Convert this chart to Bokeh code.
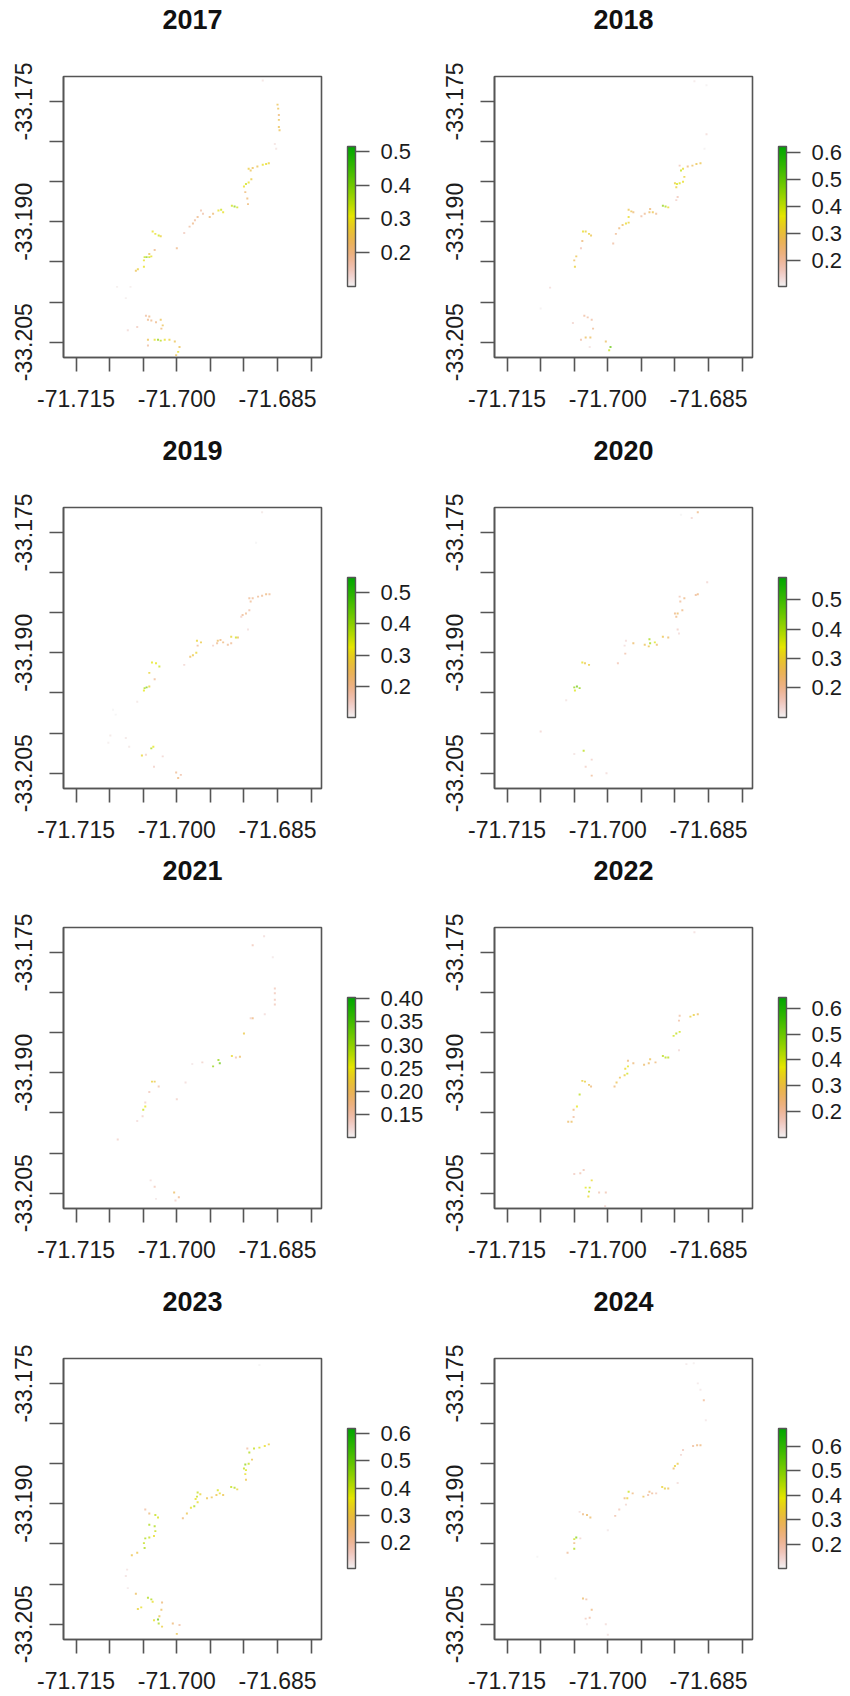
import colorsys
from bokeh.embed import file_html
from bokeh.layouts import column, row
from bokeh.models import ColorBar, ColumnDataSource, FixedTicker, LinearColorMapper, NumeralTickFormatter, Range1d, Title
from bokeh.plotting import figure
from bokeh.resources import INLINE
from bokeh.transform import transform

YEARS = [2017, 2018, 2019, 2020, 2021, 2022, 2023, 2024]
LON_TICKS = [-71.715, -71.710, -71.705, -71.700, -71.695, -71.690, -71.685, -71.680]
LAT_TICKS = [-33.175, -33.180, -33.185, -33.190, -33.195, -33.200, -33.205]
LON_LABELS = {-71.715: "-71.715", -71.700: "-71.700", -71.685: "-71.685"}
LAT_LABELS = {-33.175: "-33.175", -33.190: "-33.190", -33.205: "-33.205"}
BAR_LOW = [0.1007, 0.105, 0.103, 0.099, 0.100, 0.098, 0.103, 0.100]
BAR_HIGH = [0.514, 0.622, 0.5475, 0.576, 0.403, 0.643, 0.620, 0.672]
BAR_TICKS = [
    [0.2, 0.3, 0.4, 0.5],
    [0.2, 0.3, 0.4, 0.5, 0.6],
    [0.2, 0.3, 0.4, 0.5],
    [0.2, 0.3, 0.4, 0.5],
    [0.15, 0.20, 0.25, 0.30, 0.35, 0.40],
    [0.2, 0.3, 0.4, 0.5, 0.6],
    [0.2, 0.3, 0.4, 0.5, 0.6],
    [0.2, 0.3, 0.4, 0.5, 0.6],
]
BAR_FORMAT = ["0.0", "0.0", "0.0", "0.0", "0.00", "0.0", "0.0", "0.0"]

P_2017 = [
    (-71.6850,-33.1754,.25),(-71.6849,-33.1759,.25),(-71.6848,-33.1767,.22),(-71.6848,-33.1773,.25),(-71.6848,-33.1782,.25),(-71.6847,-33.1786,.25),
    (-71.6854,-33.1803,.12),(-71.6852,-33.1809,.12),(-71.6872,-33.1724,.12),(-71.6893,-33.1834,.27),(-71.6890,-33.1836,.25),(-71.6887,-33.1833,.25),
    (-71.6880,-33.1831,.25),(-71.6872,-33.1829,.30),(-71.6867,-33.1828,.30),(-71.6863,-33.1827,.28),(-71.6900,-33.1856,.30),(-71.6897,-33.1853,.33),
    (-71.6893,-33.1851,.30),(-71.6889,-33.1847,.27),(-71.6898,-33.1863,.22),(-71.6895,-33.1871,.22),(-71.6894,-33.1878,.22),(-71.6918,-33.1880,.33),
    (-71.6914,-33.1881,.38),(-71.6910,-33.1882,.33),(-71.6934,-33.1885,.33),(-71.6938,-33.1886,.30),(-71.6931,-33.1888,.30),(-71.6951,-33.1894,.22),
    (-71.6946,-33.1890,.22),(-71.6964,-33.1886,.17),(-71.6961,-33.1890,.17),(-71.6969,-33.1894,.20),(-71.6973,-33.1898,.18),(-71.6976,-33.1902,.20),
    (-71.6981,-33.1906,.18),(-71.6989,-33.1914,.15),(-71.7000,-33.1933,.20),(-71.7036,-33.1912,.30),(-71.7032,-33.1915,.30),(-71.7027,-33.1917,.33),
    (-71.7024,-33.1918,.28),(-71.7033,-33.1935,.20),(-71.7041,-33.1940,.25),(-71.7048,-33.1944,.33),(-71.7045,-33.1944,.38),(-71.7041,-33.1944,.33),
    (-71.7049,-33.1948,.30),(-71.7038,-33.1943,.30),(-71.7049,-33.1956,.30),(-71.7058,-33.1959,.28),(-71.7061,-33.1961,.25),(-71.7089,-33.1981,.11),
    (-71.7076,-33.1995,.11),(-71.7069,-33.1981,.11),(-71.7046,-33.2017,.18),(-71.7041,-33.2018,.20),(-71.7043,-33.2022,.20),(-71.7038,-33.2023,.20),
    (-71.7031,-33.2025,.20),(-71.7024,-33.2022,.25),(-71.7021,-33.2029,.25),(-71.7023,-33.2033,.22),(-71.7059,-33.2031,.15),(-71.7073,-33.2035,.13),
    (-71.7043,-33.2047,.25),(-71.7033,-33.2047,.30),(-71.7028,-33.2047,.38),(-71.7024,-33.2048,.35),(-71.7018,-33.2047,.30),(-71.7011,-33.2047,.28),
    (-71.7003,-33.2049,.25),(-71.6996,-33.2056,.25),(-71.6998,-33.2062,.30),(-71.7001,-33.2066,.25),(-71.7043,-33.2054,.18),
]
P_2018 = [
    (-71.6871,-33.1725,.12),(-71.6853,-33.1730,.11),(-71.6853,-33.1791,.14),(-71.6856,-33.1809,.11),(-71.6862,-33.1827,.30),(-71.6868,-33.1828,.30),
    (-71.6874,-33.1830,.28),(-71.6881,-33.1831,.25),(-71.6893,-33.1830,.18),(-71.6891,-33.1836,.40),(-71.6888,-33.1834,.35),(-71.6886,-33.1844,.33),
    (-71.6888,-33.1850,.35),(-71.6893,-33.1852,.38),(-71.6897,-33.1853,.38),(-71.6900,-33.1852,.33),(-71.6898,-33.1857,.33),(-71.6896,-33.1869,.18),
    (-71.6898,-33.1873,.16),(-71.6918,-33.1880,.45),(-71.6914,-33.1881,.42),(-71.6910,-33.1882,.35),(-71.6937,-33.1884,.25),(-71.6933,-33.1888,.30),
    (-71.6938,-33.1888,.27),(-71.6928,-33.1890,.22),(-71.6945,-33.1890,.22),(-71.6950,-33.1893,.20),(-71.6969,-33.1885,.30),(-71.6965,-33.1887,.30),
    (-71.6962,-33.1888,.25),(-71.6969,-33.1894,.35),(-71.6973,-33.1902,.35),(-71.6969,-33.1901,.33),(-71.6978,-33.1904,.28),(-71.6983,-33.1908,.25),
    (-71.6988,-33.1915,.22),(-71.6992,-33.1927,.20),(-71.7037,-33.1912,.35),(-71.7033,-33.1912,.33),(-71.7028,-33.1915,.33),(-71.7025,-33.1917,.30),
    (-71.7038,-33.1924,.25),(-71.7040,-33.1933,.18),(-71.7047,-33.1943,.30),(-71.7050,-33.1948,.28),(-71.7049,-33.1956,.33),(-71.7086,-33.1982,.14),
    (-71.7100,-33.2008,.11),(-71.7035,-33.2017,.20),(-71.7030,-33.2019,.20),(-71.7024,-33.2022,.20),(-71.7052,-33.2026,.15),(-71.7022,-33.2033,.22),
    (-71.7033,-33.2044,.28),(-71.7026,-33.2044,.28),(-71.7040,-33.2047,.20),(-71.7003,-33.2049,.28),(-71.6996,-33.2056,.50),(-71.6998,-33.2060,.40),
    (-71.7027,-33.2056,.13),
]
P_2019 = [
    (-71.6873,-33.1725,.12),(-71.6882,-33.1763,.10),(-71.6862,-33.1827,.20),(-71.6867,-33.1827,.22),(-71.6873,-33.1829,.20),(-71.6879,-33.1830,.20),
    (-71.6887,-33.1832,.20),(-71.6892,-33.1832,.20),(-71.6890,-33.1836,.20),(-71.6892,-33.1847,.18),(-71.6897,-33.1851,.20),(-71.6902,-33.1853,.20),
    (-71.6904,-33.1855,.15),(-71.6894,-33.1871,.13),(-71.6919,-33.1880,.30),(-71.6912,-33.1881,.35),(-71.6909,-33.1881,.25),(-71.6919,-33.1888,.20),
    (-71.6924,-33.1890,.20),(-71.6939,-33.1885,.25),(-71.6935,-33.1884,.22),(-71.6931,-33.1887,.22),(-71.6940,-33.1888,.20),(-71.6970,-33.1885,.30),
    (-71.6964,-33.1887,.28),(-71.6969,-33.1891,.20),(-71.6946,-33.1891,.15),(-71.6971,-33.1900,.30),(-71.6976,-33.1903,.28),(-71.6980,-33.1905,.25),
    (-71.6989,-33.1915,.14),(-71.7037,-33.1912,.33),(-71.7031,-33.1913,.33),(-71.7026,-33.1917,.35),(-71.7041,-33.1925,.30),(-71.7033,-33.1933,.20),
    (-71.7045,-33.1943,.42),(-71.7048,-33.1944,.38),(-71.7041,-33.1942,.30),(-71.7049,-33.1947,.33),(-71.7059,-33.1961,.12),(-71.7095,-33.1971,.10),
    (-71.7091,-33.1977,.10),(-71.7099,-33.2003,.12),(-71.7102,-33.2012,.11),(-71.7076,-33.2006,.12),(-71.7071,-33.2017,.12),(-71.7038,-33.2019,.38),
    (-71.7035,-33.2017,.33),(-71.7052,-33.2028,.30),(-71.7046,-33.2027,.15),(-71.7021,-33.2029,.14),(-71.7034,-33.2042,.15),(-71.7001,-33.2049,.20),
    (-71.6994,-33.2052,.18),(-71.6998,-33.2056,.22),
]
P_2020 = [
    (-71.6866,-33.1725,.22),(-71.6875,-33.1732,.14),(-71.6891,-33.1728,.10),(-71.6852,-33.1812,.14),(-71.6866,-33.1827,.22),(-71.6869,-33.1828,.20),
    (-71.6893,-33.1830,.17),(-71.6886,-33.1832,.22),(-71.6892,-33.1836,.20),(-71.6889,-33.1847,.22),(-71.6896,-33.1851,.25),(-71.6900,-33.1851,.22),
    (-71.6898,-33.1855,.22),(-71.6896,-33.1871,.15),(-71.6894,-33.1876,.13),(-71.6918,-33.1880,.28),(-71.6910,-33.1881,.25),(-71.6938,-33.1883,.40),
    (-71.6937,-33.1888,.40),(-71.6939,-33.1892,.28),(-71.6930,-33.1887,.35),(-71.6927,-33.1890,.25),(-71.6945,-33.1890,.27),(-71.6962,-33.1888,.25),
    (-71.6973,-33.1885,.13),(-71.6975,-33.1891,.13),(-71.6974,-33.1901,.18),(-71.6985,-33.1913,.17),(-71.7038,-33.1912,.33),(-71.7034,-33.1913,.28),
    (-71.7028,-33.1915,.30),(-71.7050,-33.1943,.42),(-71.7046,-33.1942,.45),(-71.7042,-33.1944,.42),(-71.7049,-33.1947,.35),(-71.7062,-33.1959,.12),
    (-71.7100,-33.1998,.14),(-71.7050,-33.2026,.12),(-71.7036,-33.2022,.38),(-71.7024,-33.2033,.15),(-71.7033,-33.2042,.15),(-71.7024,-33.2053,.20),
    (-71.7002,-33.2050,.13),
]
P_2021 = [
    (-71.6870,-33.1730,.12),(-71.6887,-33.1741,.14),(-71.6857,-33.1756,.11),(-71.6854,-33.1795,.14),(-71.6854,-33.1801,.14),(-71.6854,-33.1809,.14),
    (-71.6854,-33.1815,.14),(-71.6869,-33.1827,.12),(-71.6887,-33.1832,.18),(-71.6890,-33.1832,.13),(-71.6900,-33.1851,.22),(-71.6918,-33.1879,.24),
    (-71.6906,-33.1880,.20),(-71.6912,-33.1881,.15),(-71.6938,-33.1884,.30),(-71.6936,-33.1888,.33),(-71.6946,-33.1892,.30),(-71.6962,-33.1887,.13),
    (-71.6977,-33.1889,.11),(-71.6987,-33.1912,.12),(-71.7000,-33.1933,.13),(-71.7037,-33.1911,.23),(-71.7033,-33.1911,.22),(-71.7027,-33.1917,.15),
    (-71.7041,-33.1924,.14),(-71.7047,-33.1937,.13),(-71.7047,-33.1942,.25),(-71.7050,-33.1946,.27),(-71.7051,-33.1954,.13),(-71.7059,-33.1960,.12),
    (-71.7088,-33.1983,.13),(-71.7039,-33.2034,.12),(-71.7033,-33.2042,.14),(-71.7004,-33.2049,.20),(-71.6997,-33.2055,.17),(-71.7002,-33.2059,.13),
    (-71.7031,-33.2057,.11),
]
P_2022 = [
    (-71.6871,-33.1725,.13),(-71.6866,-33.1827,.28),(-71.6872,-33.1828,.33),(-71.6877,-33.1830,.33),(-71.6893,-33.1829,.20),(-71.6894,-33.1835,.20),
    (-71.6893,-33.1849,.40),(-71.6898,-33.1851,.42),(-71.6902,-33.1854,.40),(-71.6894,-33.1872,.14),(-71.6918,-33.1879,.42),(-71.6914,-33.1881,.42),
    (-71.6910,-33.1881,.42),(-71.6937,-33.1883,.30),(-71.6939,-33.1888,.27),(-71.6929,-33.1887,.25),(-71.6946,-33.1890,.27),(-71.6970,-33.1885,.25),
    (-71.6962,-33.1888,.25),(-71.6970,-33.1892,.38),(-71.6974,-33.1895,.35),(-71.6971,-33.1901,.40),(-71.6975,-33.1903,.33),(-71.6982,-33.1906,.30),
    (-71.6987,-33.1912,.30),(-71.6990,-33.1917,.25),(-71.7038,-33.1910,.33),(-71.7034,-33.1911,.33),(-71.7028,-33.1915,.30),(-71.7025,-33.1917,.25),
    (-71.7042,-33.1927,.42),(-71.7046,-33.1942,.37),(-71.7051,-33.1946,.25),(-71.7051,-33.1955,.20),(-71.7054,-33.1961,.28),(-71.7059,-33.1961,.27),
    (-71.7036,-33.2021,.18),(-71.7041,-33.2025,.18),(-71.7050,-33.2026,.16),(-71.7024,-33.2034,.35),(-71.7033,-33.2043,.38),(-71.7027,-33.2043,.40),
    (-71.7028,-33.2048,.42),(-71.7029,-33.2054,.35),(-71.7013,-33.2049,.18),(-71.7003,-33.2049,.18),(-71.7004,-33.2066,.15),
]
P_2023 = [
    (-71.6877,-33.1727,.10),(-71.6863,-33.1826,.32),(-71.6869,-33.1828,.35),(-71.6877,-33.1830,.38),(-71.6885,-33.1831,.40),(-71.6892,-33.1836,.42),
    (-71.6895,-33.1831,.20),(-71.6888,-33.1845,.30),(-71.6893,-33.1850,.40),(-71.6898,-33.1851,.45),(-71.6900,-33.1856,.40),(-71.6897,-33.1858,.38),
    (-71.6898,-33.1863,.35),(-71.6897,-33.1870,.30),(-71.6919,-33.1879,.40),(-71.6914,-33.1880,.42),(-71.6910,-33.1882,.33),(-71.6939,-33.1883,.38),
    (-71.6936,-33.1887,.35),(-71.6931,-33.1889,.30),(-71.6941,-33.1889,.30),(-71.6948,-33.1892,.30),(-71.6955,-33.1893,.30),(-71.6969,-33.1886,.40),
    (-71.6965,-33.1888,.33),(-71.6970,-33.1891,.40),(-71.6972,-33.1894,.35),(-71.6969,-33.1898,.35),(-71.6974,-33.1903,.42),(-71.6979,-33.1905,.35),
    (-71.6985,-33.1912,.30),(-71.6991,-33.1918,.25),(-71.7047,-33.1907,.20),(-71.7041,-33.1912,.25),(-71.7032,-33.1914,.40),(-71.7028,-33.1917,.38),
    (-71.7041,-33.1926,.42),(-71.7033,-33.1928,.42),(-71.7032,-33.1934,.40),(-71.7034,-33.1940,.35),(-71.7041,-33.1942,.40),(-71.7047,-33.1943,.42),
    (-71.7049,-33.1949,.40),(-71.7048,-33.1955,.42),(-71.7059,-33.1961,.30),(-71.7067,-33.1964,.30),(-71.7074,-33.1982,.13),(-71.7076,-33.1990,.13),
    (-71.7073,-33.2005,.12),(-71.7061,-33.2012,.28),(-71.7043,-33.2017,.42),(-71.7038,-33.2019,.42),(-71.7036,-33.2022,.35),(-71.7022,-33.2023,.25),
    (-71.7053,-33.2029,.35),(-71.7058,-33.2031,.33),(-71.7023,-33.2032,.28),(-71.7026,-33.2040,.30),(-71.7034,-33.2045,.35),(-71.7028,-33.2044,.50),
    (-71.7027,-33.2049,.42),(-71.7022,-33.2053,.32),(-71.7006,-33.2049,.25),(-71.6996,-33.2051,.20),(-71.7000,-33.2062,.30),
]
P_2024 = [
    (-71.6883,-33.1726,.12),(-71.6872,-33.1725,.11),(-71.6866,-33.1750,.12),(-71.6862,-33.1758,.12),(-71.6857,-33.1771,.22),(-71.6854,-33.1796,.12),
    (-71.6862,-33.1827,.25),(-71.6867,-33.1827,.25),(-71.6873,-33.1828,.22),(-71.6888,-33.1833,.17),(-71.6891,-33.1839,.15),(-71.6896,-33.1850,.33),
    (-71.6900,-33.1853,.35),(-71.6902,-33.1856,.28),(-71.6896,-33.1874,.14),(-71.6919,-33.1879,.35),(-71.6915,-33.1881,.35),(-71.6910,-33.1881,.30),
    (-71.6938,-33.1885,.25),(-71.6934,-33.1887,.22),(-71.6947,-33.1891,.30),(-71.6940,-33.1889,.20),(-71.6928,-33.1887,.18),(-71.6969,-33.1885,.42),
    (-71.6963,-33.1887,.25),(-71.6971,-33.1893,.35),(-71.6975,-33.1893,.25),(-71.6973,-33.1901,.15),(-71.6983,-33.1907,.18),(-71.6989,-33.1915,.20),
    (-71.7000,-33.1933,.12),(-71.7042,-33.1910,.14),(-71.7037,-33.1913,.25),(-71.7031,-33.1914,.28),(-71.7026,-33.1917,.28),(-71.7047,-33.1942,.50),
    (-71.7050,-33.1944,.42),(-71.7041,-33.1943,.15),(-71.7050,-33.1956,.45),(-71.7050,-33.1949,.25),(-71.7060,-33.1961,.22),(-71.7105,-33.1966,.10),
    (-71.7078,-33.1993,.10),(-71.7037,-33.2018,.28),(-71.7032,-33.2019,.20),(-71.7024,-33.2032,.25),(-71.7027,-33.2042,.20),(-71.7033,-33.2043,.17),
    (-71.7031,-33.2050,.12),(-71.7003,-33.2050,.14),(-71.7000,-33.2063,.13),
]
POINTS = [P_2017, P_2018, P_2019, P_2020, P_2021, P_2022, P_2023, P_2024]


def terrain_rev(n=255):
    # R's terrain.colors(n), reversed: light end for low values, green for high
    k = n // 2
    out = []
    for i in range(k):
        t = i / (k - 1)
        out.append(colorsys.hsv_to_rgb((4 / 12) + t * (-2 / 12), 1.0, 0.65 + t * 0.25))
    m = n - k + 1
    for i in range(1, m):
        t = i / (m - 1)
        out.append(colorsys.hsv_to_rgb((2 / 12) * (1 - t), 1.0 - t, 0.9 + t * 0.05))
    out = ["#%02x%02x%02x" % tuple(int(round(c * 255)) for c in rgb) for rgb in out]
    return out[::-1]


PALETTE = terrain_rev()
DARK = "#555555"
TEXT = "#1c1c1c"
FONT = "Liberation Sans"


def panel(i, fig_w, fig_h, left):
    fw, fh, top = 258, 281, 76
    p = figure(
        width=fig_w, height=fig_h, output_backend="svg", toolbar_location=None,
        x_range=Range1d(-71.71688, -71.67845), y_range=Range1d(-33.2069, -33.1719),
        min_border_left=left, min_border_right=fig_w - left - fw,
        min_border_top=top, min_border_bottom=fig_h - top - fh,
    )
    p.grid.visible = False
    p.outline_line_color = DARK
    p.outline_line_width = 1.6
    p.title = Title(
        text=str(YEARS[i]), text_font=FONT, text_font_size="27px", text_font_style="bold",
        text_color="#111111", align="center", vertical_align="bottom", offset=-2, standoff=0,
    )
    p.add_layout(Title(text="\u00a0", text_font=FONT, text_font_size="12px", standoff=32), "above")

    for ax, ticks, labels in ((p.xaxis[0], LON_TICKS, LON_LABELS), (p.yaxis[0], LAT_TICKS, LAT_LABELS)):
        ax.ticker = FixedTicker(ticks=ticks)
        ax.major_label_overrides = {t: labels.get(t, "") for t in ticks}
        ax.minor_tick_line_color = None
        ax.major_tick_in = 0
        ax.major_tick_out = 14
        ax.major_tick_line_color = DARK
        ax.major_tick_line_width = 1.6
        ax.axis_line_color = DARK
        ax.axis_line_width = 1.6
        ax.major_label_text_font = FONT
        ax.major_label_text_font_size = "23px"
        ax.major_label_text_color = TEXT
    p.xaxis[0].major_label_standoff = 18
    p.yaxis[0].major_label_standoff = 17
    p.yaxis[0].major_label_orientation = "parallel"

    mapper = LinearColorMapper(palette=PALETTE, low=BAR_LOW[i], high=BAR_HIGH[i])
    src = ColumnDataSource(dict(
        lon=[q[0] for q in POINTS[i]], lat=[q[1] for q in POINTS[i]], val=[q[2] for q in POINTS[i]],
    ))
    p.rect("lon", "lat", width=0.0003, height=0.00024, source=src,
           fill_color=transform("val", mapper), fill_alpha=0.7, line_color=None)

    cb = ColorBar(
        color_mapper=mapper, ticker=FixedTicker(ticks=BAR_TICKS[i]),
        formatter=NumeralTickFormatter(format=BAR_FORMAT[i]),
        width=8, height=140, location=(fw + 26, fh - 70 - 140),
        padding=0, margin=0,
        major_tick_in=0, major_tick_out=14, major_tick_line_color=DARK, major_tick_line_width=1.6,
        bar_line_color=DARK, bar_line_width=1.4,
        label_standoff=11, major_label_text_font=FONT, major_label_text_font_size="22px",
        major_label_text_color=TEXT, background_fill_alpha=0, border_line_color=None,
    )
    p.add_layout(cb, "center")
    return p


heights = [431, 420, 431, 414]
rows = []
for r in range(4):
    rows.append(row(panel(2 * r, 425, heights[r], 63), panel(2 * r + 1, 425, heights[r], 69), spacing=0))
page = column(*rows, spacing=0)
open("out.html", "w").write(file_html(page, INLINE))
